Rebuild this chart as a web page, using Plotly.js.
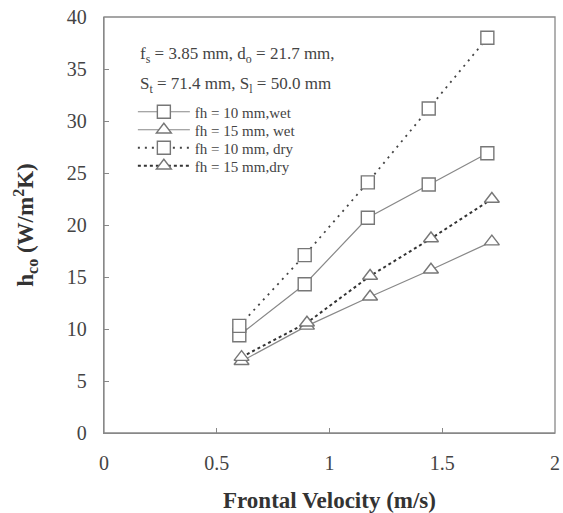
<!DOCTYPE html>
<html><head><meta charset="utf-8">
<script src="https://cdn.plot.ly/plotly-3.0.1.min.js"></script>
<style>body{margin:0;background:#fff}#c{width:563px;height:513px}</style>
</head><body><div id="c"></div>
<script>
const xFh10 = [0.60, 0.89, 1.17, 1.44, 1.70];
const xFh15 = [0.61, 0.90, 1.18, 1.45, 1.72];
const wet10 = [9.4, 14.3, 20.7, 23.9, 26.9];
const wet15 = [6.9, 10.3, 13.1, 15.7, 18.4];
const dry10 = [10.3, 17.1, 24.1, 31.2, 38.0];
const dry15 = [7.3, 10.6, 15.1, 18.7, 22.5];
const seriesNames = ["fh = 10 mm,wet", "fh = 15 mm, wet", "fh = 10 mm, dry", "fh = 15 mm,dry"];
const xTicks = [0, 0.5, 1, 1.5, 2];
const xTickText = ["0", "0.5", "1", "1.5", "2"];
const yTicks = [0, 5, 10, 15, 20, 25, 30, 35, 40];

const serif = "Liberation Serif, Times New Roman, serif";
const mk = (sym) => ({symbol: sym, size: 13, color: "#fff", line: {color: "#777", width: 1.4}});
const traces = [
  {x: xFh10, y: wet10, name: seriesNames[0], legend: "legend", mode: "lines+markers", line: {color: "#888", width: 1.2}, marker: mk("square")},
  {x: xFh15, y: wet15, name: seriesNames[1], legend: "legend2", mode: "lines+markers", line: {color: "#888", width: 1.2}, marker: mk("triangle-up")},
  {x: xFh10, y: dry10, name: seriesNames[2], legend: "legend3", mode: "lines+markers", line: {color: "#444", width: 1.8, dash: "2px,5px"}, marker: mk("square")},
  {x: xFh15, y: dry15, name: seriesNames[3], legend: "legend4", mode: "lines+markers", line: {color: "#333", width: 2, dash: "dot"}, marker: mk("triangle-up")}
];
const axBase = {
  showline: true, linecolor: "#888", linewidth: 1.3,
  ticks: "inside", ticklen: 5, tickcolor: "#888", showgrid: false, zeroline: false,
  tickfont: {family: serif, size: 20, color: "#444"}
};
const legPx = [112, 130, 148, 166];
const mkLeg = (py) => ({x: 0.064, y: (433 - py) / 416, xanchor: "left", yanchor: "middle", bgcolor: "rgba(0,0,0,0)",
  font: {family: serif, size: 15, color: "#444"}, itemwidth: 52, borderwidth: 0});
const layout = {
  width: 563, height: 513,
  margin: {l: 104, r: 8, t: 17, b: 80},
  paper_bgcolor: "#fff", plot_bgcolor: "#fff",
  showlegend: true,
  legend: mkLeg(legPx[0]), legend2: mkLeg(legPx[1]), legend3: mkLeg(legPx[2]), legend4: mkLeg(legPx[3]),
  xaxis: Object.assign({}, axBase, {range: [0, 2], tickvals: xTicks, ticktext: xTickText, ticklabelstandoff: 12,
    title: {text: "Frontal Velocity (m/s)", standoff: 18, font: {family: serif, size: 23, color: "#333", weight: "bold"}}}),
  yaxis: Object.assign({}, axBase, {range: [0, 40], tickvals: yTicks, ticklabelstandoff: 12,
    title: {text: "h<sub>co</sub> (W/m<sup>2</sup>K)", standoff: 26, font: {family: serif, size: 23, color: "#333", weight: "bold"}}}),
  shapes: [{type: "rect", xref: "paper", yref: "paper", x0: 0, x1: 1, y0: 0, y1: 1, line: {color: "#888", width: 1.3}, layer: "above"}],
  annotations: [
    {xref: "paper", yref: "paper", x: 0.075, y: 0.909, xanchor: "left", yanchor: "middle", showarrow: false,
     text: "f<sub>s</sub> = 3.85 mm, d<sub>o</sub> = 21.7 mm,", font: {family: serif, size: 17, color: "#444"}},
    {xref: "paper", yref: "paper", x: 0.075, y: 0.837, xanchor: "left", yanchor: "middle", showarrow: false,
     text: "S<sub>t</sub> = 71.4 mm, S<sub>l</sub> = 50.0 mm", font: {family: serif, size: 17, color: "#444"}}
  ]
};
Plotly.newPlot("c", traces, layout, {displayModeBar: false, staticPlot: true});
</script></body></html>
